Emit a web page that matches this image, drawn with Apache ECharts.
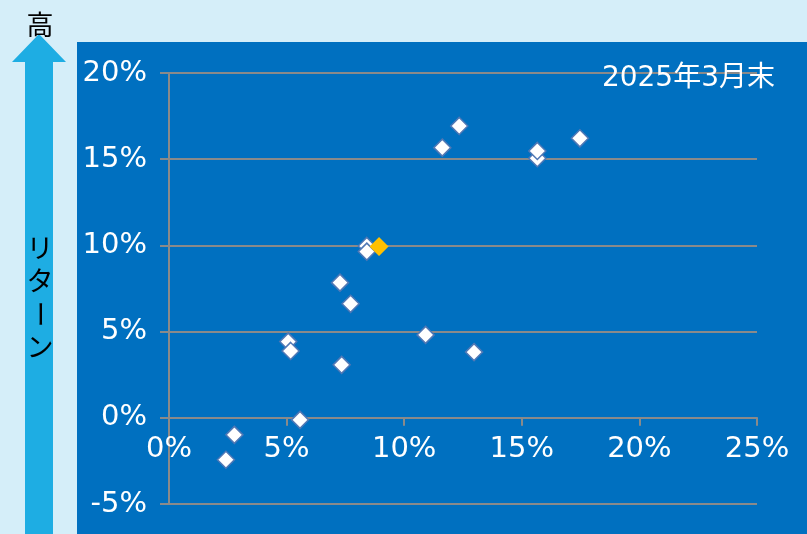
<!DOCTYPE html>
<html>
<head>
<meta charset="utf-8">
<script src="https://cdn.jsdelivr.net/npm/echarts@6/dist/echarts.min.js"></script>
<style>
  html, body { margin: 0; padding: 0; background: #d5eef9; }
  #chart { width: 807px; height: 534px; }
</style>
</head>
<body>
<div id="chart"></div>
<script>
// Risk (x, %) vs return (y, %) for each fund
const riskValues   = [2.42, 2.78, 5.07, 5.17, 5.57, 7.27, 7.34, 7.72, 8.41, 8.41, 10.91, 11.62, 12.34, 12.97, 15.66, 15.66, 17.47];
const returnValues = [-2.43, -0.99, 4.42, 3.88, -0.12, 7.84, 3.07, 6.61, 9.97, 9.64, 4.81, 15.67, 16.93, 3.81, 15.06, 15.48, 16.21];
// Highlighted fund
const highlightRisk = [8.93];
const highlightReturn = [9.93];

const xTicks = [0, 5, 10, 15, 20, 25];
const yTicks = [-5, 0, 5, 10, 15, 20];
const dateLabel = '2025年3月末';
const axisTop = '高';
const axisName = ['リ', 'タ', 'ー', 'ン'];

const CJK = '"Noto Sans CJK JP", sans-serif';
const NUM = '"DejaVu Sans", "Noto Sans CJK JP", sans-serif';

const GRID_TOP = 73, GRID_BOTTOM = 30, HEIGHT = 534;
const yMin = yTicks[0], yMax = yTicks[yTicks.length - 1];
// lift the horizontal axis from the bottom edge up to the zero line
const zeroLift = (HEIGHT - GRID_TOP - GRID_BOTTOM) * (0 - yMin) / (yMax - yMin);

const chart = echarts.init(document.getElementById('chart'));

const whitePoints = riskValues.map((x, i) => [x, returnValues[i]]);
const orangePoints = highlightRisk.map((x, i) => [x, highlightReturn[i]]);

// vertical axis caption, one glyph per line; the long-vowel mark turns upright
const captionTexts = axisName.map((ch, i) => ({
  type: 'text',
  x: 40, y: 248 + i * 33,
  rotation: ch === 'ー' ? -Math.PI / 2 : 0,
  style: {
    text: ch, fill: '#000', font: '27px ' + CJK,
    align: 'center', verticalAlign: 'middle'
  },
  z: 10
}));

chart.setOption({
  backgroundColor: '#d5eef9',
  animation: false,
  grid: { left: 169, right: 50, top: GRID_TOP, bottom: GRID_BOTTOM, containLabel: false, outerBoundsMode: 'none' },
  xAxis: {
    type: 'value', min: xTicks[0], max: xTicks[xTicks.length - 1], interval: 5,
    position: 'bottom', offset: -zeroLift,
    axisLine: { show: true, onZero: false, lineStyle: { color: '#8a8a8a', width: 2 } },
    axisTick: { show: true, length: 8, lineStyle: { color: '#8a8a8a', width: 2 } },
    axisLabel: { color: '#fff', fontSize: 29, fontFamily: NUM, margin: 17, formatter: '{value}%' },
    splitLine: { show: false }
  },
  yAxis: {
    type: 'value', min: yMin, max: yMax, interval: 5,
    axisLine: { show: true, lineStyle: { color: '#8a8a8a', width: 2 } },
    axisTick: { show: true, length: 9, lineStyle: { color: '#8a8a8a', width: 2 } },
    axisLabel: { color: '#fff', fontSize: 29, fontFamily: NUM, margin: 22, formatter: '{value}%' },
    splitLine: { show: true, lineStyle: { color: '#8a8a8a', width: 2 } }
  },
  graphic: [
    { type: 'rect', shape: { x: 77, y: 42, width: 730, height: 492 }, style: { fill: '#0070c0' }, z: -10, silent: true },
    { type: 'polygon', shape: { points: [[39, 34], [66, 62], [53, 62], [53, 534], [25, 534], [25, 62], [12, 62]] },
      style: { fill: '#1eade3' }, z: 1 },
    { type: 'text', x: 40, y: 25, style: { text: axisTop, fill: '#000', font: '27px ' + CJK, align: 'center', verticalAlign: 'middle' }, z: 10 },
    ...captionTexts,
    { type: 'text', x: 775, y: 79, style: { text: dateLabel, fill: '#fff', font: '28px ' + NUM, align: 'right', verticalAlign: 'middle' }, z: 10 }
  ],
  series: [
    {
      type: 'scatter', data: whitePoints, symbol: 'diamond', symbolSize: 17,
      itemStyle: { color: '#ffffff', borderColor: '#5078b5', borderWidth: 1.5, opacity: 1 },
      z: 3
    },
    {
      type: 'scatter', data: orangePoints, symbol: 'diamond', symbolSize: 19,
      itemStyle: { color: '#ffc000', opacity: 1 },
      z: 4
    }
  ]
});
</script>
</body>
</html>
